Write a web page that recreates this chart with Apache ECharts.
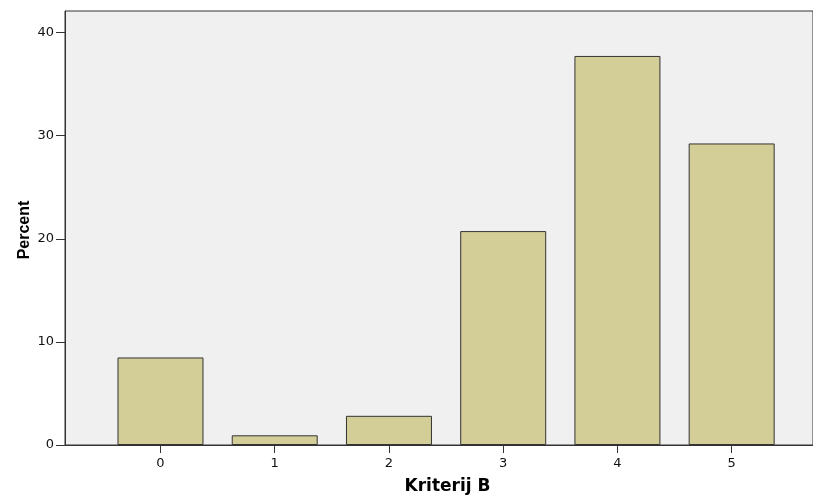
<!DOCTYPE html>
<html>
<head>
<meta charset="utf-8">
<script src="https://cdn.jsdelivr.net/npm/echarts@6/dist/echarts.min.js"></script>
<style>html,body{margin:0;padding:0;background:#fff;}#c{width:813px;height:495px;}</style>
</head>
<body>
<div id="c"></div>
<script>
const categories = [0, 1, 2, 3, 4, 5];
const percentValues = [8.49, 0.94, 2.83, 20.75, 37.74, 29.25];
const yTicks = [0, 10, 20, 30, 40];

const chart = echarts.init(document.getElementById('c'), null, {renderer: 'canvas'});
const tickFont = '"DejaVu Sans", sans-serif';
chart.setOption({
  animation: false,
  grid: {left: 65, right: 0, top: 11, bottom: 50, containLabel: false, outerBoundsMode: 'none',
         show: true, backgroundColor: '#f0f0f0', borderColor: '#333', borderWidth: 1},
  xAxis: {
    type: 'value', min: -0.836, max: 5.712,
    name: 'Kriterij B', nameLocation: 'middle', nameGap: 33, nameMoveOverlap: false,
    nameTextStyle: {fontFamily: '"DejaVu Sans", sans-serif', fontWeight: 'bold', fontSize: 17, color: '#000', padding: [0, 0, 0, 17]},
    axisLine: {show: true, onZero: false, lineStyle: {color: '#333', width: 1}},
    axisTick: {show: true, length: 8, lineStyle: {color: '#333'}, customValues: categories},
    axisLabel: {customValues: categories, margin: 12, fontFamily: tickFont, fontSize: 13, color: '#111'},
    splitLine: {show: false}
  },
  yAxis: {
    type: 'value', min: 0, max: 42.1, interval: 10,
    name: 'Percent', nameLocation: 'middle', nameGap: 32.5, nameRotate: 90, nameMoveOverlap: false,
    nameTextStyle: {fontFamily: '"Liberation Sans", Arial, sans-serif', fontWeight: 'bold', fontSize: 16, color: '#000', padding: [0, 4, 0, 0]},
    axisLine: {show: true, onZero: false, lineStyle: {color: '#333', width: 1}},
    axisTick: {show: true, length: 9, lineStyle: {color: '#333'}, customValues: yTicks},
    axisLabel: {customValues: yTicks, margin: 11, fontFamily: tickFont, fontSize: 13, color: '#111'},
    splitLine: {show: false}
  },
  series: [{
    type: 'bar',
    data: categories.map((c, i) => [c, percentValues[i]]),
    barWidth: 86,
    itemStyle: {color: '#d3ce97', borderColor: '#333', borderWidth: 1}
  }]
});
</script>
</body>
</html>
